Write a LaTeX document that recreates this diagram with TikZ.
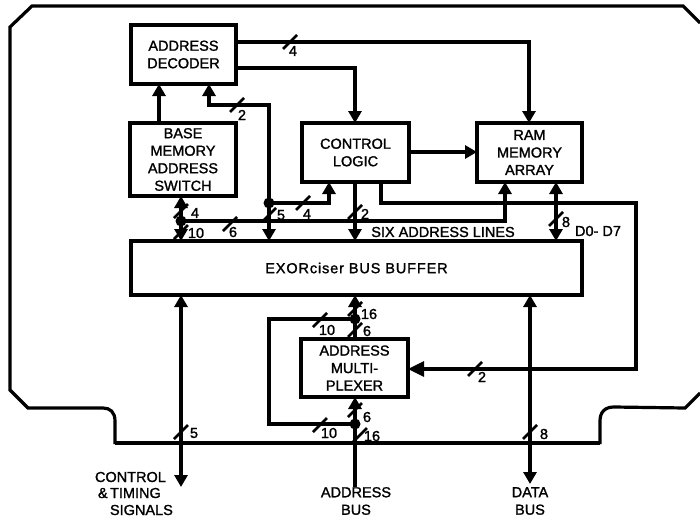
\documentclass[tikz,border=0pt]{standalone}
\usepackage{fontspec}
\setmainfont[FakeBold=1.4]{Liberation Sans}
\usetikzlibrary{arrows.meta}
\tikzset{
  x=1pt,y=-1pt,
  wire/.style={line width=3.2pt},
  blk/.style={draw,line width=3.2pt,inner sep=0pt,outer sep=0pt,anchor=north west,align=center,font=\fontsize{14.5}{17.5}\selectfont},
  lab/.style={inner sep=0pt,outer sep=0pt,align=center,font=\fontsize{14.5}{17.5}\selectfont},
  num/.style={inner sep=0pt,outer sep=0pt,font=\fontsize{14.5}{17}\selectfont},
  ar/.style={wire,-{Triangle[length=12pt,width=13pt]}},
  br/.style={wire,{Triangle[length=12pt,width=13pt]}-{Triangle[length=12pt,width=13pt]}},
  slash/.style={line width=2.7pt},
  outl/.style={line width=3.2pt,line join=miter},
}
\newcommand{\busmark}[2]{\draw[slash] (#1-7,#2+7) -- (#1+7,#2-7);}
\begin{document}
\begin{tikzpicture}
\useasboundingbox (0,0) rectangle (700,522);
\fill[white] (0,0) rectangle (700,522);
% boards
\draw[outl] (115,444) -- (115,421) .. controls (115,412) and (110,408) .. (103,408) -- (28,408) -- (10,390) -- (10,27) -- (32,6) -- (683,6) -- (700,23);
\draw[outl] (700,393) -- (685,408) -- (614,407) .. controls (605,407) and (600,412) .. (600,421) -- (600,444);
% blocks
\node[blk,minimum width=105pt,minimum height=59pt] (dec) at (131,25) {ADDRESS\\DECODER};
\node[blk,minimum width=106pt,minimum height=73pt] (base) at (130,123) {BASE\\MEMORY\\ADDRESS\\SWITCH};
\node[blk,minimum width=107pt,minimum height=59pt] (ctl) at (302,123) {CONTROL\\LOGIC};
\node[blk,minimum width=105pt,minimum height=59pt] (ram) at (477,123) {RAM\\MEMORY\\ARRAY};
\node[blk,minimum width=451pt,minimum height=54pt] (buf) at (131,241) {\addfontfeature{LetterSpace=6}EXORciser BUS BUFFER};
\node[blk,minimum width=107pt,minimum height=58pt] (mux) at (301,339) {ADDRESS\\MULTI-\\PLEXER};
% free points
\coordinate (busL) at (115,443);
\coordinate (busR) at (600,443);
\coordinate (decA) at (236,42);
\coordinate (ramT) at (529,123);
\coordinate (decB) at (236,68);
\coordinate (ctlT) at (355,123);
\coordinate (baseT) at (159,123);
\coordinate (decS1) at (159,84);
\coordinate (decS2) at (209,84);
\coordinate (baseB) at (181,196);
\coordinate (bufTa) at (181,241);
\coordinate (jA) at (181,221);
\coordinate (jB) at (269,203);
\coordinate (bufTb) at (269,241);
\coordinate (ctlB1) at (329,182);
\coordinate (ctlB2) at (355,182);
\coordinate (bufTc) at (355,241);
\coordinate (ctlB3) at (381,182);
\coordinate (ramB1) at (505,182);
\coordinate (ramB2) at (556,182);
\coordinate (bufTd) at (556,241);
\coordinate (bufB1) at (181,295);
\coordinate (outA) at (181,487);
\coordinate (bufB2) at (355,295);
\coordinate (muxT) at (355,339);
\coordinate (muxB) at (355,397);
\coordinate (outB) at (355,487);
\coordinate (bufB3) at (530,295);
\coordinate (outC) at (530,484);
\coordinate (jC) at (355,319);
\coordinate (jD) at (355,424);
\coordinate (muxR) at (408,369);
\coordinate (ctlR) at (409,152);
\coordinate (ramL) at (477,152);
% system bus
\draw[outl] (busL) -- (busR);
% connectors
\draw[ar] (decA) -| (ramT);
\draw[ar] (decB) -| (ctlT);
\draw[ar] (baseT) -- (decS1);
\draw[ar] (jB) |- (209,105) -- (decS2);
\draw[ar] (jB) -- (bufTb);
\draw[ar] (jB) -| (ctlB1);
\fill (jB) circle (5.5);
\draw[br] (baseB) -- (bufTa);
\fill (jA) circle (5.5);
\draw[ar] (jA) -| (ramB1);
\draw[ar] (ctlB2) -- (bufTc);
\draw[ar] (ctlR) -- (ramL);
\draw[wire] (ctlB3) |- (636,203) |- (450,369);
\draw[wire,-{Triangle[length=16pt,width=15pt]}] (636,369) -- (muxR);
\draw[br] (ramB2) -- (bufTd);
\draw[br] (bufB1) -- (outA);
\draw[br] (bufB3) -- (outC);
\draw[ar] (muxT) -- (bufB2);
\draw[wire] (jC) -| (269,424) -- (jD);
\fill (jC) circle (5.5);
\draw[ar] (outB) -- (muxB);
\fill (jD) circle (5.5);
% bus-width marks
\busmark{290}{42}
\busmark{237}{105}
\busmark{181}{211}
\busmark{181}{232}
\busmark{230}{224}
\busmark{269}{215}
\busmark{303}{203}
\busmark{355}{212}
\busmark{475}{369}
\busmark{556}{219}
\busmark{355}{309}
\busmark{355}{330}
\busmark{320}{320}
\busmark{355}{410}
\busmark{360}{435}
\busmark{320}{425}
\busmark{181}{432}
\busmark{530}{432}
% numbers
\node[num] (n1) at (293,51) {4};
\node[num] (n2) at (242,115) {2};
\node[num] (n3) at (195,213) {4};
\node[num] (n4) at (196,233) {10};
\node[num] (n5) at (233,232) {6};
\node[num] (n6) at (281,215) {5};
\node[num] (n7) at (307,214) {4};
\node[num] (n8) at (365,214) {2};
\node[num] (n9) at (566,222) {8};
\node[num] (n10) at (369,314) {16};
\node[num] (n11) at (367,331) {6};
\node[num] (n12) at (327,330) {10};
\node[num] (n13) at (482,377) {2};
\node[num] (n14) at (367,417) {6};
\node[num] (n15) at (372,436) {16};
\node[num] (n16) at (329,433) {10};
\node[num] (n17) at (194,433) {5};
\node[num] (n18) at (544,434) {8};
% labels
\node[lab] (six) at (443,232) {SIX ADDRESS LINES};
\node[lab] (d07) at (598,231) {D0- D7};
\node[lab,anchor=west] (cts1) at (95,477) {CONTROL};
\node[lab,anchor=west] (cts2) at (98,493) {\&\,TIMING};
\node[lab,anchor=west] (cts3) at (110,510) {SIGNALS};
\node[lab] (ab) at (356,501) {ADDRESS\\BUS};
\node[lab] (db) at (530,501) {DATA\\BUS};
\end{tikzpicture}
\end{document}
